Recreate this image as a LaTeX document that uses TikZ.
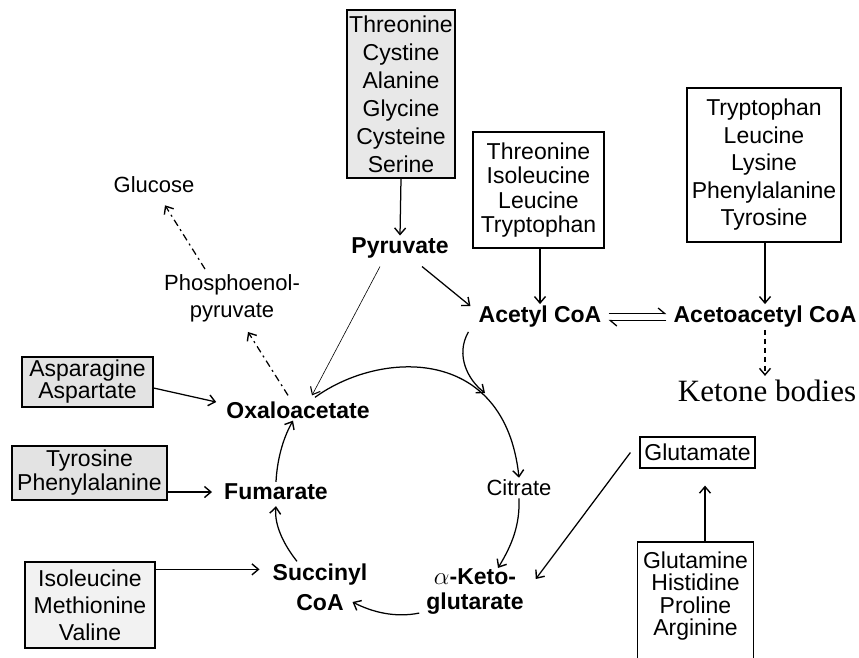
\documentclass[tikz,border=0pt]{standalone}
\usepackage{fontspec}
\setmainfont{Liberation Sans}
\newfontfamily\serifket{Liberation Serif}
\usetikzlibrary{arrows.meta}
\begin{document}
\begin{tikzpicture}[x=1pt,y=-1pt,
  aabox/.style={draw, line width=1.2pt, align=center, inner sep=0pt, font=\fontsize{23}{27.5}\selectfont},
  met/.style={font=\bfseries\fontsize{23}{25}\selectfont, inner sep=2pt, align=center},
  lab/.style={font=\fontsize{22}{27}\selectfont, inner sep=2pt, align=center},
  arr/.style={-{Straight Barb[length=6.5pt,width=11pt,line width=1.4pt]}, line width=1.25pt},
  thinarr/.style={-{Straight Barb[length=6.5pt,width=11pt,line width=1.1pt]}, line width=0.6pt},
  dasharr/.style={-{Straight Barb[length=6.5pt,width=11pt,line width=1.4pt]}, line width=1.25pt, dash pattern=on 7pt off 4pt on 2pt off 4pt},
  harp/.style={-{Straight Barb[harpoon,length=6.5pt,width=11pt,line width=1.3pt]}, line width=1.2pt, shorten <=5pt, shorten >=5pt}
]
\useasboundingbox (0,0) rectangle (859,657);
\clip (0,0) rectangle (859,657);
\fill[white] (0,0) rectangle (859,657);

% amino-acid boxes
\node[aabox, fill=gray!18, minimum width=108pt, minimum height=168pt, font=\fontsize{23}{28}\selectfont] (aa1) at (401,94) {Threonine\\Cystine\\Alanine\\Glycine\\Cysteine\\Serine};
\node[aabox, minimum width=131pt, minimum height=116pt, font=\fontsize{23}{24.5}\selectfont] (aa2) at (538.5,190) {Threonine\\Isoleucine\\Leucine\\Tryptophan};
\node[aabox, line width=2.8pt, minimum width=154pt, minimum height=154pt] (aa3) at (764,165) {Tryptophan\\Leucine\\Lysine\\Phenylalanine\\Tyrosine};
\node[aabox, fill=gray!22, minimum width=131pt, minimum height=50pt, font=\fontsize{23}{22}\selectfont] (aa4) at (87.5,382) {Asparagine\\Aspartate};
\node[aabox, fill=gray!22, minimum width=155pt, minimum height=54pt, font=\fontsize{23}{24}\selectfont] (aa5) at (89.5,473) {Tyrosine\\Phenylalanine};
\node[aabox, fill=gray!10, minimum width=130pt, minimum height=86pt, font=\fontsize{23}{27}\selectfont] (aa6) at (90,605) {Isoleucine\\Methionine\\Valine};
\node[aabox, minimum width=115pt, minimum height=31pt] (glu) at (697.5,452.5) {Glutamate};
\node[aabox, draw=none, minimum width=115pt, anchor=north, inner ysep=9pt, font=\fontsize{23}{22.5}\selectfont] (aa7) at (695.5,542) {Glutamine\\Histidine\\Proline\\Arginine};
\draw[line width=1.2pt] ([yshift=-40pt]aa7.south west) -- (aa7.north west) -- (aa7.north east) -- ([yshift=-40pt]aa7.south east);

% metabolites
\node[met] (pyr) at (400,248) {Pyruvate};
\node[met] (acet) at (540,317) {Acetyl CoA};
\node[met] (aacet) at (765,317) {Acetoacetyl CoA};
\node[font=\serifket\fontsize{31}{32}\selectfont, inner sep=2pt] (ket) at (767,391) {Ketone bodies};
\node[lab] (glc) at (154,185) {Glucose};
\node[lab] (pep) at (232,298) {Phosphoenol-\\pyruvate};
\node[met] (oxa) at (298,410) {Oxaloacetate};
\node[met] (fum) at (276,492) {Fumarate};
\node[met, font=\bfseries\fontsize{23}{30}\selectfont] (suc) at (320,587) {Succinyl\\CoA};
\node[met, font=\bfseries\fontsize{23}{25}\selectfont] (akg) at (475,592) {$\alpha$-Keto-\\glutarate};
\node[lab] (cit) at (519,488) {Citrate};

% connectors
\draw[arr] (aa1.south) -- (pyr.north);
\draw[arr] ([xshift=22pt,yshift=-6pt]pyr.south) -- ([xshift=-6pt,yshift=-2pt]acet.north west);
\draw[thinarr] ([xshift=-20pt,yshift=-6pt]pyr.south) -- ([xshift=14pt,yshift=4pt]oxa.north);
\draw[arr] (aa2.south -| acet.north) -- (acet.north);
\draw[arr] (aa3.south -| aacet.north) -- (aacet.north);
\draw[harp] ([yshift=3.5pt]acet.east) -- ([yshift=3.5pt]aacet.west);
\draw[harp] ([yshift=-3.5pt]aacet.west) -- ([yshift=-3.5pt]acet.east);
\draw[arr, dash pattern=on 5pt off 4pt, shorten >=2pt] (aacet.south) -- (aacet.south |- ket.north);
\draw[dasharr] ([xshift=-10pt,yshift=4pt]oxa.north) -- ([xshift=16pt,yshift=-8pt]pep.south);
\draw[dasharr] ([xshift=-27pt,yshift=3pt]pep.north) -- ([xshift=11pt,yshift=-10pt]glc.south);
\draw[arr] ([yshift=-6pt]aa4.east) -- ([xshift=-8pt,yshift=8pt]oxa.west);
\draw[arr] (aa5.east |- fum.west) -- ([xshift=-10pt]fum.west);
\coordinate (sucin) at ([xshift=-11pt,yshift=-8pt]suc.north west);
\draw[arr] (aa6.east |- sucin) -- (sucin);

% cycle
\draw[arr] ([xshift=17pt,yshift=2pt]oxa.north) .. controls (380,350) and (505,345) .. (cit.north);
\coordinate (joinpt) at (485,393);
\draw[arr] ([xshift=-8pt,yshift=-2pt]acet.south west) .. controls (455,355) and (468,380) .. (joinpt);
\draw[arr] (cit.south) .. controls (520,525) and (512,545) .. ([xshift=23pt,yshift=-1pt]akg.north);
\draw[arr] ([xshift=-5pt,yshift=4pt]akg.south west) .. controls (395,618) and (372,612) .. ([xshift=-17pt,yshift=-15pt]suc.east);
\draw[arr] ([xshift=-23pt]suc.north) .. controls (284,545) and (274,525) .. ([yshift=-4pt]fum.south);
\draw[arr] (fum.north) .. controls (277,462) and (282,440) .. ([xshift=-5pt]oxa.south);

% glutamate
\draw[arr] ([xshift=-9pt]glu.west) -- ([xshift=10pt,yshift=13pt]akg.east);
\coordinate (glufoot) at ([xshift=9.5pt]aa7.north);
\draw[arr, shorten >=17pt] (glufoot) -- (glufoot |- glu.south);
\end{tikzpicture}
\end{document}
